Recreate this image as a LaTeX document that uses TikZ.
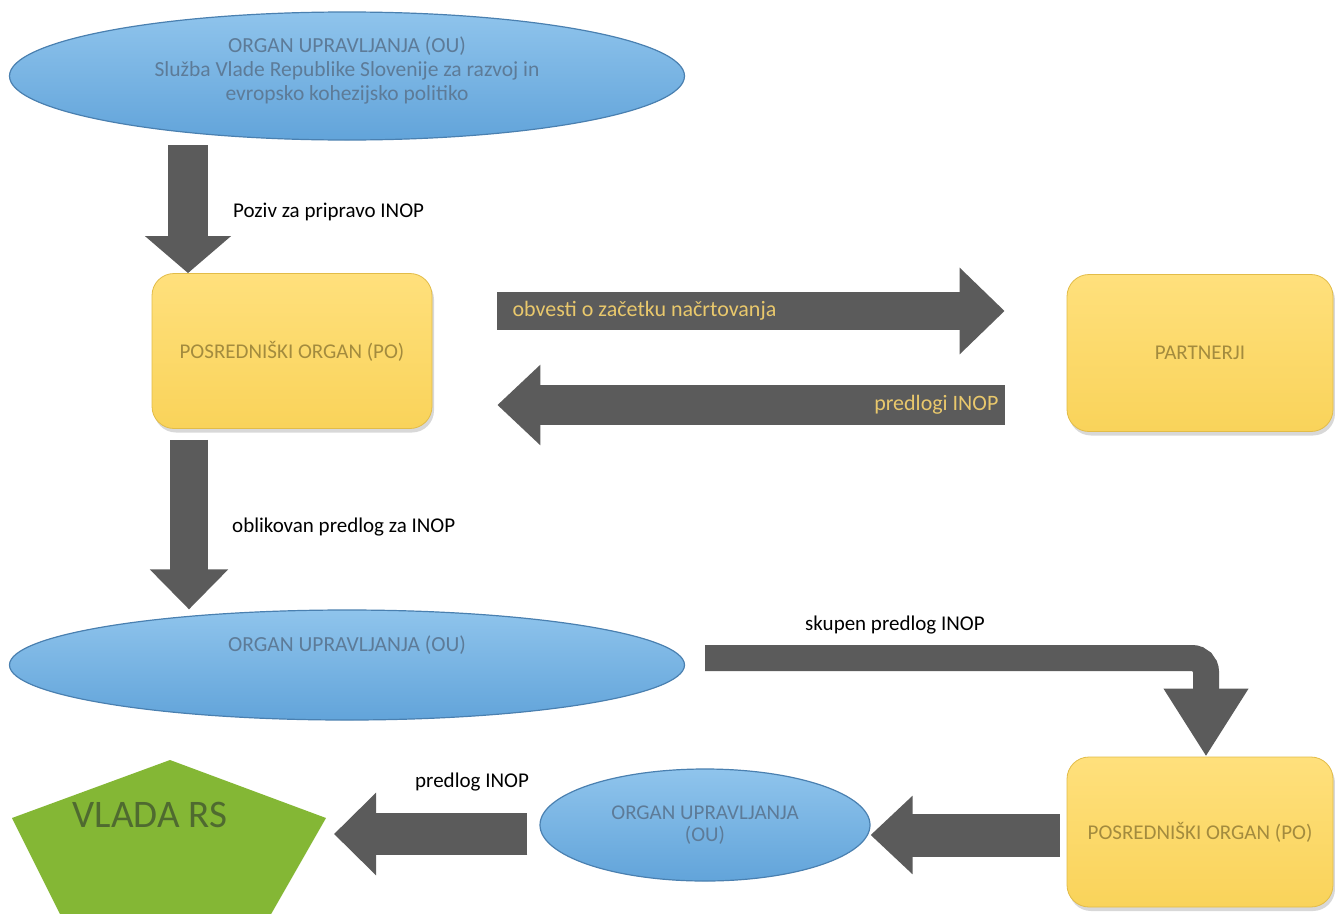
\documentclass[tikz,border=0pt]{standalone}
\usepackage{fontspec}
\setmainfont{Carlito}
\usetikzlibrary{shapes.geometric,arrows.meta,shadows}

\definecolor{oublue}{HTML}{62A4DA}
\definecolor{oubluetop}{HTML}{8FC4EC}
\definecolor{ouedge}{HTML}{4A80B0}
\definecolor{outext}{HTML}{5D7B98}
\definecolor{poyellow}{HTML}{F9D35A}
\definecolor{poyellowtop}{HTML}{FFE07C}
\definecolor{poedge}{HTML}{E2BC48}
\definecolor{potext}{HTML}{A38B3E}
\definecolor{arrowgrey}{HTML}{5B5B5B}
\definecolor{arrowtext}{HTML}{E9C86C}
\definecolor{vladagreen}{HTML}{84B735}
\definecolor{vladatext}{HTML}{4F6A30}

\tikzset{
  ou/.style={ellipse, draw=ouedge, line width=1.2pt, top color=oubluetop, bottom color=oublue,
    text=outext, inner sep=0pt, align=center, font=\fontsize{21.5}{24}\selectfont},
  outxt/.style={text=outext, inner sep=0pt, align=center, font=\fontsize{21.5}{24}\selectfont},
  po/.style={rectangle, rounded corners=22pt, draw=poedge, line width=.8pt, top color=poyellowtop,
    bottom color=poyellow, text=potext, inner sep=0pt, font=\fontsize{21}{24}\selectfont,
    drop shadow={shadow xshift=2pt, shadow yshift=-4pt, opacity=.3}},
  flow/.style={draw=arrowgrey, line width=#1},
  lbl/.style={font=\fontsize{21}{24}\selectfont, inner sep=0pt, anchor=west},
  inlbl/.style={lbl, text=arrowtext, font=\fontsize{22}{24}\selectfont},
}

\begin{document}
\begin{tikzpicture}[x=1pt,y=-1pt]
    \clip (0,0) rectangle (1335,913);
    \fill[white] (0,0) rectangle (1335,913);

    % bodies
    \node[ou, minimum width=675pt, minimum height=128pt, text depth=14pt] (ou1) at (347,76)
        {ORGAN UPRAVLJANJA (OU)\\Služba Vlade Republike Slovenije za razvoj in\\evropsko kohezijsko politiko};
    \node[po, minimum width=280pt, minimum height=155pt] (po1) at (292,351) {POSREDNIŠKI ORGAN (PO)};
    \node[po, minimum width=266pt, minimum height=157pt] (par) at (1200,353) {PARTNERJI};
    \node[ou, minimum width=675pt, minimum height=110pt] (ou2) at (347,665) {};
    \node[outxt] (ou2t) at ([yshift=20pt]ou2.center) {ORGAN UPRAVLJANJA (OU)};
    \node[po, minimum width=266pt, minimum height=150pt] (po2) at (1200,832) {POSREDNIŠKI ORGAN (PO)};
    \node[ou, minimum width=330pt, minimum height=112pt, font=\fontsize{21}{22}\selectfont] (ou3) at (705,825)
        {ORGAN UPRAVLJANJA\\(OU)};

    % vlada
    \coordinate (v1) at (170,760);
    \coordinate (v2) at (326,818);
    \coordinate (v3) at (262,930);
    \coordinate (v4) at (68,930);
    \coordinate (v5) at (12,818);
    \fill[vladagreen] (v1) -- (v2) -- (v3) -- (v4) -- (v5) -- cycle;
    \node[font=\fontsize{39}{39}\selectfont, text=vladatext] (vlada) at (150,815) {VLADA RS};

    % arrows
    \coordinate (a1) at (188,145);
    \draw[flow=40pt, -{Triangle[length=37pt,width=84pt]}] (a1) -- (a1 |- po1.north);
    \node[lbl] (a1t) at (233,212) {Poziv za pripravo INOP};

    \coordinate (o1) at ([shift={(65pt,40pt)}]po1.east);
    \coordinate (o2) at ([xshift=-62pt]par.west);
    \draw[flow=38pt, -{Triangle[length=45pt,width=84pt]}] (o1) -- (o1 -| o2);
    \node[inlbl] (o1t) at ([xshift=15pt]o1) {obvesti o začetku načrtovanja};

    \coordinate (p1) at ([shift={(-62pt,-52pt)}]par.west);
    \coordinate (p2) at ([xshift=65pt]po1.east);
    \draw[flow=40pt, -{Triangle[length=43pt,width=78pt]}] (p1) -- (p1 -| p2);
    \node[inlbl, anchor=east] (p1t) at ([xshift=-6pt]p1) {predlogi INOP};

    \coordinate (a2) at ([shift={(-103pt,-11pt)}]po1.south);
    \draw[flow=38pt, -{Triangle[length=40pt,width=76pt]}] (a2) -- (a2 |- ou2.north);
    \node[lbl] (a2t) at (232,527) {oblikovan predlog za INOP};

    \coordinate (b1) at ([shift={(20pt,7pt)}]ou2.east);
    \draw[flow=26pt, rounded corners=14pt, -{Triangle[length=68pt,width=80pt]}] (b1) -| ([xshift=6pt]po2.north);
    \node[lbl] (b1t) at (805,625) {skupen predlog INOP};

    \coordinate (c3) at ([shift={(-7pt,-3pt)}]po2.west);
    \draw[flow=43pt, -{Triangle[length=42pt,width=76pt]}] (c3) -- (c3 -| ou3.east);

    \coordinate (c4) at ([shift={(-12pt,-9pt)}]ou3.west);
    \coordinate (vr) at ([xshift=8pt]v2);
    \draw[flow=42pt, -{Triangle[length=42pt,width=80pt]}] (c4) -- (c4 -| vr);
    \node[lbl] (c4t) at (415,782) {predlog INOP};
\end{tikzpicture}
\end{document}
